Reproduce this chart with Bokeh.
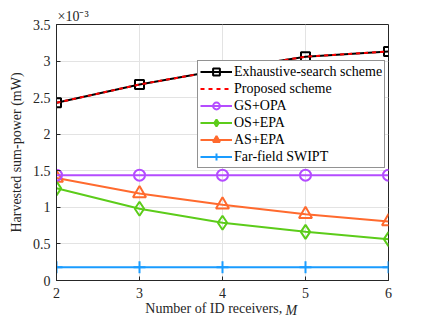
from bokeh.plotting import figure
from bokeh.models import Range1d, Label, Legend, FixedTicker, Title
from bokeh.embed import file_html
from bokeh.resources import INLINE

# Data (harvested sum-power in units of 1e-3 mW)
M = [2, 3, 4, 5, 6]
exhaustive = [2.43, 2.68, 2.88, 3.06, 3.13]
proposed = [2.43, 2.68, 2.88, 3.06, 3.13]
gs_opa = [1.44, 1.44, 1.44, 1.44, 1.44]
os_epa = [1.26, 0.98, 0.79, 0.665, 0.565]
as_epa = [1.40, 1.19, 1.035, 0.905, 0.805]
far_field = [0.18, 0.18, 0.18, 0.18, 0.18]
x_ticks = [2, 3, 4, 5, 6]
y_ticks = [0, 0.5, 1, 1.5, 2, 2.5, 3, 3.5]

FONT = "Liberation Serif"

p = figure(frame_width=332, frame_height=256, output_backend="svg", toolbar_location=None,
           x_range=Range1d(2, 6), y_range=Range1d(0, 3.5),
           min_border_left=56, min_border_top=24, min_border_right=40, min_border_bottom=40)
p.background_fill_color = "white"
p.border_fill_color = "white"
p.outline_line_color = "#262626"
p.outline_line_width = 1

for ax in (p.xaxis[0], p.yaxis[0]):
    ax.major_label_text_font = FONT
    ax.major_label_text_font_size = "14px"
    ax.major_label_text_color = "#262626"
    ax.axis_line_color = "#262626"
    ax.major_tick_line_color = "#262626"
    ax.major_tick_in = 4
    ax.major_tick_out = 0
    ax.minor_tick_line_color = None
    ax.axis_label_text_font = FONT
    ax.axis_label_text_font_size = "14px"
    ax.axis_label_text_font_style = "normal"
    ax.axis_label_text_color = "#262626"

p.xaxis.ticker = FixedTicker(ticks=x_ticks)
p.yaxis.ticker = FixedTicker(ticks=y_ticks)
p.xaxis.major_label_standoff = 7
p.xaxis.axis_label = "Number of ID receivers, \u00a0\u00a0\u00a0\u00a0"
p.xaxis.axis_label_standoff = 0
p.yaxis.major_label_standoff = 6
p.yaxis.axis_label = "Harvested sum-power (mW)"
p.yaxis.axis_label_standoff = 6

p.xgrid.grid_line_color = "#e3e3e3"
p.ygrid.grid_line_color = "#e3e3e3"
p.xgrid.ticker = FixedTicker(ticks=x_ticks)
p.ygrid.ticker = FixedTicker(ticks=y_ticks)

items = []
def series(y, color, label, marker=None, size=9, dash="solid", width=2):
    rs = []
    rs.append(p.line(M, y, line_color=color, line_width=width, line_dash=dash))
    if marker is not None:
        rs.append(p.scatter(M, y, marker=marker, size=size, line_color=color,
                            line_width=2, fill_alpha=0))
    items.append((label, rs))

series(far_field, "#1a9cff", "Far-field SWIPT", "cross", 12)
series(as_epa, "#ff6a2e", "AS+EPA", "triangle", 13)
series(os_epa, "#5ccc1a", "OS+EPA", "diamond", 14)
series(gs_opa, "#b44cff", "GS+OPA", "circle", 11)
series(exhaustive, "#000000", "Exhaustive-search scheme", "square", 9)
series(proposed, "#ff0000", "Proposed scheme", None, dash="4 4")

order = ["Exhaustive-search scheme", "Proposed scheme", "GS+OPA", "OS+EPA", "AS+EPA", "Far-field SWIPT"]
d = dict(items)
legend = Legend(items=[(k, d[k]) for k in order], location=(141, 112))
legend.label_text_font = FONT
legend.label_text_font_size = "14px"
legend.label_text_color = "#000000"
legend.glyph_width = 32
legend.glyph_height = 17
legend.label_height = 17
legend.spacing = 0
legend.padding = 2
legend.margin = 0
legend.label_standoff = 2
legend.border_line_color = "#262626"
legend.border_line_width = 1
legend.background_fill_alpha = 1
p.add_layout(legend, "center")

# exponent label above the frame
p.add_layout(Title(text="×10⁻³", align="left", text_font=FONT, text_font_size="14px",
                   text_font_style="normal", text_color="#262626", offset=1,
                   standoff=1), "above")

# italic M completing the x-axis label (placed in the right side panel)
p.add_layout(Label(x=-103, y=-30, x_units="screen", y_units="screen",
                   text="M", text_font=FONT, text_font_size="14px",
                   text_font_style="italic", text_color="#262626", text_align="left",
                   text_baseline="alphabetic"), "right")

open("out.html", "w").write(file_html(p, INLINE))
